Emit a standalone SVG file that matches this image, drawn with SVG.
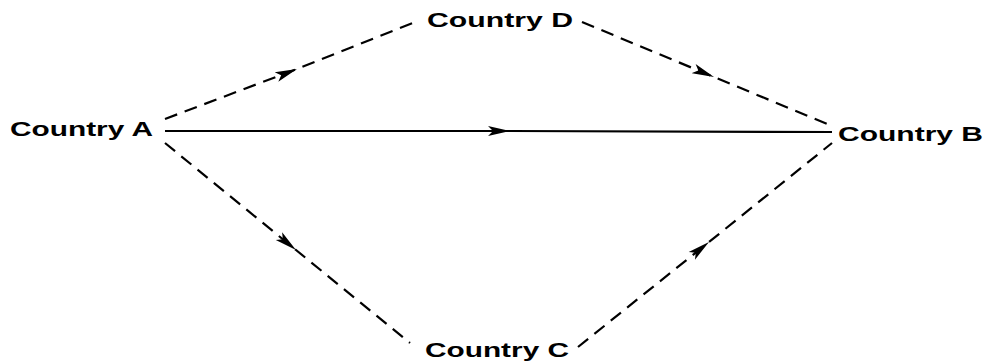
<svg xmlns="http://www.w3.org/2000/svg" width="985" height="362" viewBox="0 0 985 362">
<defs>
<style>
.lbl{font-family:"Liberation Sans",Arial,sans-serif;font-size:21px;font-weight:bold;fill:#000}
.edge{fill:none;stroke:#000;stroke-width:2.2}
.dash{stroke-dasharray:13 8}
</style>
<marker id="arr" markerWidth="26" markerHeight="12" refX="22" refY="6" orient="auto" markerUnits="userSpaceOnUse">
<path d="M0,1 L22,6 L0,11 L5,6 Z" fill="#000"/>
</marker>
</defs>
<rect width="985" height="362" fill="#fff"/>
<g id="connectors">
<path class="edge dash" d="M165,119 L297,69 L415,22" marker-mid="url(#arr)"/>
<path class="edge dash" d="M582,22 L714,77 L832,126" marker-mid="url(#arr)"/>
<path class="edge" d="M165,131 L510,131 L832,132" marker-mid="url(#arr)"/>
<path class="edge dash" d="M165,143 L296,250 L410,343" marker-mid="url(#arr)"/>
<path class="edge dash" d="M578,347 L709,242 L832,143" marker-mid="url(#arr)"/>
</g>
<g id="countryA"><text class="lbl" x="10" y="136" textLength="143" lengthAdjust="spacingAndGlyphs">Country A</text></g>
<g id="countryD"><text class="lbl" x="427" y="27" textLength="146" lengthAdjust="spacingAndGlyphs">Country D</text></g>
<g id="countryB"><text class="lbl" x="838" y="141" textLength="145" lengthAdjust="spacingAndGlyphs">Country B</text></g>
<g id="countryC"><text class="lbl" x="425" y="357" textLength="144" lengthAdjust="spacingAndGlyphs">Country C</text></g>
</svg>
